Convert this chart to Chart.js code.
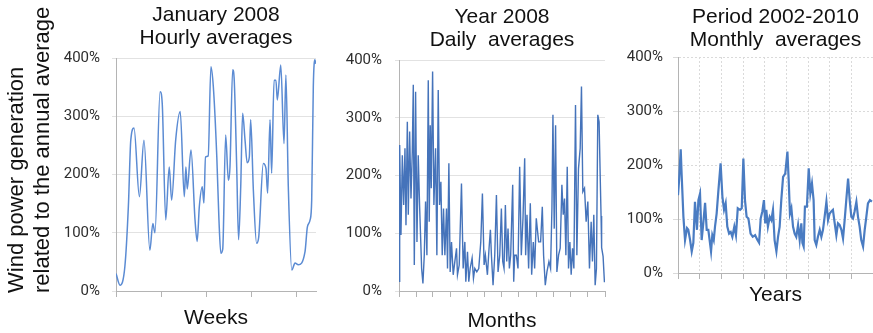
<!DOCTYPE html>
<html>
<head>
<meta charset="utf-8">
<script src="https://cdn.jsdelivr.net/npm/chart.js@4.4.1/dist/chart.umd.min.js"></script>
<style>
  body { margin: 0; background: #fff; }
  #wrap { position: relative; width: 873px; height: 333px; overflow: hidden; }
  #wrap canvas { position: absolute; top: 0; }
</style>
</head>
<body>
<div id="wrap">
  <canvas id="c-hourly" width="330" height="333" style="left:0"></canvas>
  <canvas id="c-daily" width="280" height="333" style="left:330px"></canvas>
  <canvas id="c-monthly" width="263" height="333" style="left:610px"></canvas>
</div>
<script>
// January 2008, hourly averages (hour of month -> % of annual average)
const hourlyHours = [
  0, 15, 33, 46, 55, 67, 87, 104, 126, 137,
  145, 164, 172, 185, 198, 207, 222, 239, 254, 260,
  265, 279, 294, 302, 310, 321, 327, 333, 343, 353,
  362, 375, 383, 390, 397, 408, 418, 424, 434, 440,
  449, 456, 464, 471, 480, 488, 496, 501, 511, 523,
  531, 548, 558, 564, 573, 579, 588, 595, 600, 613,
  625, 632, 641, 654, 666, 678, 703, 712, 722, 728,
  734, 740, 743
];
const hourlyValues = [
  30, 10, 42, 145, 259, 280, 162, 259, 70, 116,
  100, 342, 322, 122, 213, 156, 259, 308, 162, 213,
  175, 242, 122, 85, 145, 179, 151, 230, 232, 385,
  351, 230, 122, 65, 72, 268, 190, 213, 380, 360,
  213, 88, 179, 305, 259, 220, 230, 294, 173, 82,
  93, 219, 210, 168, 294, 202, 362, 362, 328, 388,
  253, 371, 179, 36, 48, 45, 67, 110, 122, 156,
  351, 397, 390
];

// Year 2008, daily averages (day of year -> %)
const dailyDays = [
  0, 1.2, 3.5, 5.9, 8.3, 10.6, 12.4, 14.8, 16.5, 18.9,
  21.3, 23.6, 25.4, 27.2, 29.5, 31.9, 34.2, 36.5, 40.2, 42.5,
  44.9, 47.2, 49.6, 52, 53.7, 55.5, 57.3, 59.7, 62, 65,
  67.3, 69.7, 72, 74.4, 76.8, 79.1, 81.5, 84.4, 86.2, 88.6,
  90.9, 93.3, 96.3, 99.2, 102.2, 103.9, 107, 111, 114, 117,
  118.7, 121.7, 124, 126.4, 129.9, 132.3, 134.7, 138.2, 141.7, 145.3,
  148.2, 151.2, 153.5, 157.1, 160, 162.4, 164.2, 167.1, 170.1, 173.1,
  176, 179, 181.9, 184.3, 186.6, 189, 191.4, 193.7, 196.1, 198.4,
  202, 203.8, 205.5, 208.5, 211.4, 214.4, 217.3, 220.3, 223.3, 225,
  227.4, 230.3, 233.3, 235.7, 238.6, 241, 243.9, 245.7, 248.1, 251.6,
  254.6, 256.9, 259.9, 262.8, 266.4, 269.3, 271.7, 273.5, 275.8, 278.2,
  280.5, 283.5, 286.4, 289.4, 291.8, 294.1, 296.5, 298.9, 301.2, 303.6,
  305.9, 308.3, 310.7, 313.6, 316, 318.9, 321.9, 324.2, 326.6, 329.6,
  332.5, 335.5, 338.4, 341.4, 343.7, 346.1, 348.5, 350.8, 353.2, 355.5,
  357.3, 359, 360, 362.6, 365
];
const dailyValues = [
  17, 253, 97, 235, 149, 247, 114, 293, 132, 276,
  160, 241, 357, 45, 345, 85, 235, 150, 39, 13,
  62, 155, 62, 365, 120, 287, 178, 380, 149, 247,
  62, 348, 149, 189, 62, 143, 62, 143, 39, 221,
  33, 85, 28, 51, 74, 28, 45, 186, 39, 85,
  16, 68, 16, 39, 57, 22, 39, 33, 39, 85,
  169, 45, 62, 28, 74, 106, 62, 10, 62, 166,
  33, 62, 143, 51, 39, 149, 51, 108, 39, 62,
  184, 16, 62, 62, 39, 215, 62, 126, 230, 62,
  132, 39, 152, 28, 85, 39, 126, 108, 85, 85,
  146, 62, 10, 33, 51, 39, 143, 305, 108, 287,
  33, 62, 74, 184, 132, 160, 62, 215, 39, 85,
  28, 74, 39, 322, 62, 212, 247, 354, 172, 178,
  120, 155, 39, 120, 51, 132, 10, 39, 305, 293,
  207, 130, 75, 60, 15
];

// 2002-2010, monthly averages (months since Jan 2002 -> %)
const monthlyMonths = [
  0, 0.6, 1.5, 2, 3, 3.9, 5, 5.7, 6.7, 7.6,
  8.5, 9.4, 10.5, 11.3, 12.2, 13.1, 14, 15, 15.9, 16.8,
  18.3, 19, 19.8, 20.5, 21.4, 22.4, 23.6, 24.6, 25.5, 26.4,
  27.3, 28.3, 29.2, 30.1, 31.2, 32.1, 33.1, 34.4, 35.3, 36.2,
  37.1, 38, 39, 40.2, 41.4, 42.7, 44, 44.9, 45.8, 46.7,
  47.6, 48.3, 48.9, 49.8, 50.8, 51.7, 52.6, 53.5, 54.5, 55.4,
  56.3, 57.2, 58.2, 59.4, 60.6, 61.3, 62, 62.8, 63.7, 64.6,
  65.5, 66.5, 67.4, 68.3, 68.9, 69.6, 70.3, 71.4, 72.4, 73.3,
  74.2, 75.1, 75.7, 76.6, 77.5, 78.5, 79.4, 80.3, 81.2, 82.2,
  83.1, 84, 84.9, 85.8, 86.8, 87.7, 88.6, 89.5, 90.5, 91.4,
  92.3, 93.2, 94.2, 95.1, 96, 96.9, 97.8, 98.8, 99.7, 100.6,
  101.5, 102.5, 103.4, 104.3, 105.2, 106.3, 107.4
];
const monthlyValues = [
  144, 172, 229, 184, 104, 61, 83, 80, 61, 40,
  56, 132, 80, 135, 147, 61, 92, 130, 80, 80,
  40, 70, 61, 86, 110, 154, 203, 141, 117, 129,
  86, 73, 76, 67, 86, 70, 120, 117, 120, 212,
  135, 104, 101, 73, 67, 70, 61, 56, 101, 114,
  135, 92, 117, 86, 104, 98, 117, 61, 40, 67,
  86, 135, 178, 184, 225, 172, 110, 120, 86, 73,
  67, 89, 61, 92, 56, 49, 123, 123, 194, 147,
  166, 135, 61, 52, 67, 80, 67, 80, 104, 132,
  98, 110, 114, 117, 92, 70, 92, 89, 80, 64,
  98, 135, 175, 135, 104, 101, 114, 132, 104, 86,
  61, 49, 80, 104, 129, 135, 132
];

const weekTicks  = [0, 168, 336, 504, 672];
const monthTicks = [0, 31, 60, 91, 121, 152, 182, 213, 244, 274, 305, 335, 366];
const yearTicks  = [0, 12, 24, 36, 48, 60, 72, 84, 96, 108];

const TEXT_FAMILY = '"Liberation Sans", Arial, Helvetica, sans-serif';
const GRID = '#e2e2e2';
const AXIS = '#b4b4b4';

// rotated two-line y title; it is longer than the plot, so the scale title can't hold it
const yTitlePlugin = {
  id: 'yTitle',
  afterDraw(chart, args, opts) {
    const { ctx, chartArea } = chart;
    ctx.save();
    ctx.font = opts.size + 'px ' + TEXT_FAMILY;
    ctx.fillStyle = opts.color;
    ctx.textAlign = 'left';
    ctx.textBaseline = 'alphabetic';
    ctx.translate(opts.x, chartArea.bottom + opts.dy);
    ctx.rotate(-Math.PI / 2);
    opts.lines.forEach((line, i) => ctx.fillText(line, 0, i * opts.lineHeight));
    ctx.restore();
  }
};

function panelConfig(p) {
  return {
    type: 'line',
    data: {
      datasets: [{
        data: p.xs.map((x, i) => ({ x: x, y: p.ys[i] })),
        borderColor: p.color,
        borderWidth: p.width,
        pointRadius: 0,
        tension: 0,
        cubicInterpolationMode: p.smooth ? 'monotone' : 'default',
      }],
    },
    options: {
      responsive: false,
      animation: false,
      devicePixelRatio: 1,
      layout: { padding: p.padding },
      plugins: {
        legend:  { display: false },
        tooltip: { enabled: false },
        title: {
          display: true,
          fullSize: false,
          text: p.title,
          color: '#111',
          font: { family: TEXT_FAMILY, size: 21, weight: 'normal', lineHeight: 23 / 21 },
          padding: p.titlePad,
        },
        yTitle: p.yTitle,
      },
      scales: {
        x: {
          type: 'linear',
          min: 0,
          max: p.xMax,
          bounds: 'data',
          afterBuildTicks: s => { s.ticks = p.xTicks.map(v => ({ value: v })); },
          ticks: { display: false },
          grid: { drawOnChartArea: p.dotted, color: '#dadada', tickLength: 6, tickColor: AXIS },
          border: { color: AXIS, dash: p.dotted ? [2, 2] : [] },
          title: {
            display: true,
            text: p.xLabel,
            color: '#111',
            font: { family: TEXT_FAMILY, size: 21, weight: 'normal', lineHeight: 24 / 21 },
            padding: p.xLabelPad,
          },
        },
        y: {
          min: 0,
          max: 400,
          afterFit: s => { s.width = p.yWidth; },
          ticks: {
            stepSize: 100,
            padding: p.tickPad,
            color: '#2e2e2e',
            font: { family: 'Roboto, "Open Sans", sans-serif', size: 15 },
            callback: v => v + '%',
          },
          grid: { color: p.dotted ? '#dadada' : GRID, tickLength: p.yTickLen },
          border: { color: AXIS, dash: p.dotted ? [2, 2] : [] },
        },
      },
    },
    plugins: p.yTitle ? [yTitlePlugin] : [],
  };
}

new Chart(document.getElementById('c-hourly'), panelConfig({
  xs: hourlyHours, ys: hourlyValues, xMax: 744, xTicks: weekTicks,
  color: '#5b8bd3', width: 1.5, smooth: true, dotted: false,
  title: ['January 2008', 'Hourly averages'], xLabel: 'Weeks',
  padding: { left: 0, right: 14, top: 0, bottom: 0 },
  titlePad: { top: 3.5, bottom: 8.5 }, xLabelPad: { top: 9, bottom: 3 },
  yWidth: 116, tickPad: 12, yTickLen: 4,
  yTitle: {
    lines: ['Wind power generation', 'related to the annual average'],
    size: 22, lineHeight: 26, x: 23, dy: 2, color: '#111',
  },
}));

new Chart(document.getElementById('c-daily'), panelConfig({
  xs: dailyDays, ys: dailyValues, xMax: 366, xTicks: monthTicks,
  color: '#4573ba', width: 1.4, smooth: false, dotted: false,
  title: ['Year 2008', 'Daily  averages'], xLabel: 'Months',
  padding: { left: 0, right: 5, top: 2, bottom: 0 },
  titlePad: { top: 3.5, bottom: 8.5 }, xLabelPad: { top: 12, bottom: 0 },
  yWidth: 69, tickPad: 13, yTickLen: 4,
}));

new Chart(document.getElementById('c-monthly'), panelConfig({
  xs: monthlyMonths, ys: monthlyValues, xMax: 108, xTicks: yearTicks,
  color: '#4a7cc2', width: 2.2, smooth: false, dotted: true,
  title: ['Period 2002-2010', 'Monthly  averages'], xLabel: 'Years',
  padding: { left: 0, right: 0, top: 2, bottom: 20 },
  titlePad: { top: 3.5, bottom: 5.5 }, xLabelPad: { top: 4, bottom: 6 },
  yWidth: 68, tickPad: 10, yTickLen: 5,
}));
</script>
</body>
</html>
